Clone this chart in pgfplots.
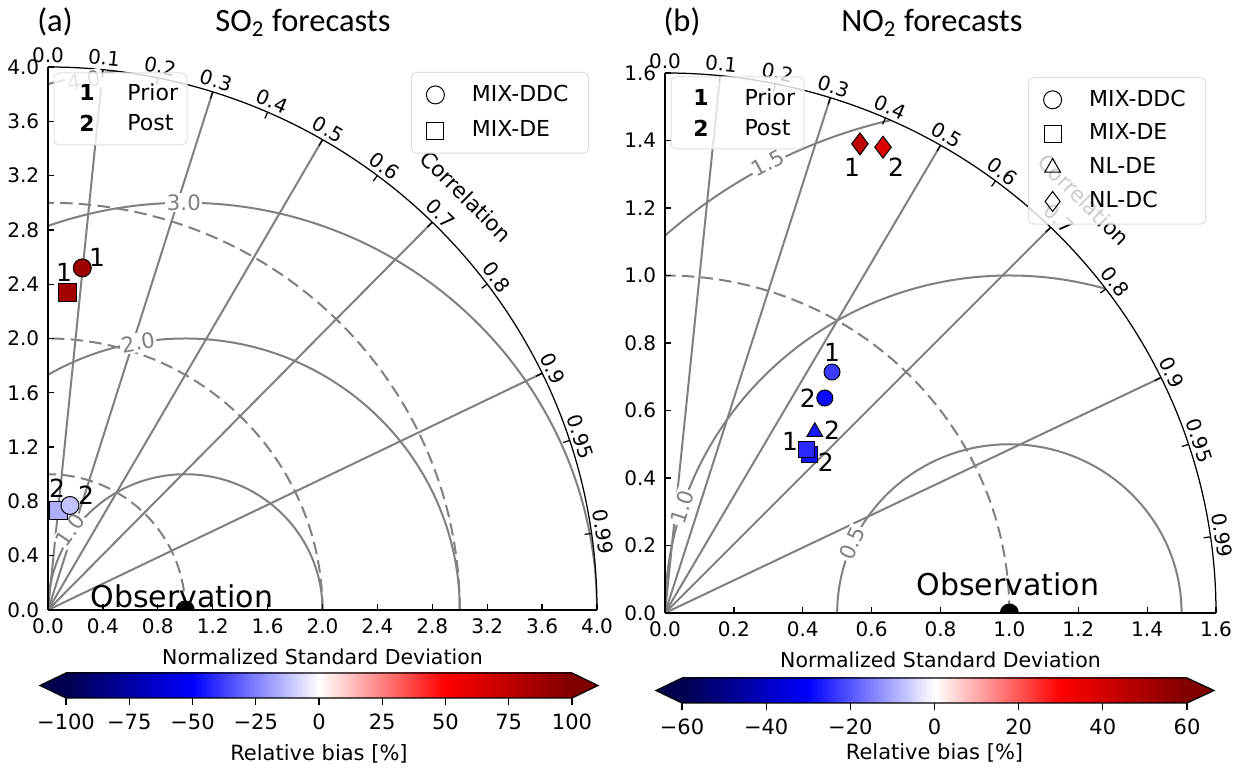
\documentclass[border=0pt]{standalone}
\usepackage{fontspec}
\setmainfont{DejaVu Sans}
\newfontfamily\titlefont{Carlito}
\usepackage{pgfplots}
\pgfplotsset{compat=1.18}

\definecolor{sA}{rgb}{0,0,0.3}
\definecolor{sB}{rgb}{0,0,1}
\definecolor{sD}{rgb}{1,0,0}
\definecolor{sE}{rgb}{0.5,0,0}
\definecolor{gridgray}{gray}{0.5}
\pgfdeclarehorizontalshading{seismic}{100bp}{color(0bp)=(sA); color(25bp)=(sA); color(37.5bp)=(sB); color(50bp)=(white); color(62.5bp)=(sD); color(75bp)=(sE); color(100bp)=(sE)}

\newcommand\tickfont{\fontsize{8}{9}\selectfont}
\newcommand\numfont{\fontsize{10}{11}\selectfont}

\pgfplotsset{
  taylor/.style={
    scale only axis, anchor=south west,
    axis lines=left, axis line style={-, black, line width=0.6pt},
    tick align=inside, major tick length=2.5pt, tick style={black, line width=0.5pt},
    /pgf/number format/fixed, /pgf/number format/fixed zerofill,
    /pgf/number format/precision=1, /pgf/number format/assume math mode=true,
    tick label style={font=\tickfont},
    xlabel={Normalized Standard Deviation},
    label style={font=\fontsize{8.2}{9}\selectfont},
    xlabel style={yshift=1pt},
    clip marker paths=true,
    colormap={seismic}{rgb=(0,0,0.3) rgb=(0,0,1) rgb=(1,1,1) rgb=(1,0,0) rgb=(0.5,0,0)},
    legend cell align=left,
    legend style={draw=gray!25, rounded corners=2pt, fill=white, fill opacity=0.8,
      text opacity=1, font=\fontsize{8.8}{10}\selectfont, anchor=north west,
      row sep=2.4pt, column sep=9pt, inner xsep=6pt, inner ysep=3pt},
  },
  mk/.style={scatter, only marks, point meta=explicit, forget plot,
    scatter/use mapped color={draw=black, fill=mapped color}},
  cbar/.style={
    scale only axis, anchor=south west, height=10pt, clip=false,
    ymin=0, ymax=1, ytick=\empty, axis line style={draw=none},
    tick align=outside, xtick pos=bottom, major tick length=2.8pt,
    tick style={black, line width=0.5pt},
    tick label style={font=\fontsize{8.4}{9}\selectfont},
    xlabel={Relative bias [\%]},
    label style={font=\fontsize{8.4}{9}\selectfont},
    axis background/.style={shade, shading=seismic},
  },
}

\begin{document}
\begin{tikzpicture}
\path[use as bounding box] (0,0) rectangle (494.8pt,307.2pt);

% ---------- left panel grid
\begin{scope}[shift={(19.2pt,63.2pt)}, x=54.9pt, y=54.3pt]
  \begin{scope}
    \clip (0,0) -- (4,0) arc[start angle=0, end angle=90, radius=4] -- cycle;
    \foreach \c in {0.1,0.3,0.5,0.7,0.9} {
      \pgfmathsetmacro\a{acos(\c)}
      \draw[gridgray, line width=0.8pt] (0,0) -- (\a:4);
    }
    \foreach \r in {1,2,3,4}
      \draw[gridgray, line width=0.8pt] (1,0) circle[radius=\r];
    \foreach \r in {1,2,3}
      \draw[gridgray, line width=0.8pt, dash pattern=on 5pt off 2.5pt] (\r,0) arc[start angle=0, end angle=90, radius=\r];
  \end{scope}
  \draw[black, line width=0.5pt] (4,0) arc[start angle=0, end angle=90, radius=4];
  \foreach \c in {0.0,0.1,0.2,0.3,0.4,0.5,0.6,0.7,0.8,0.9,0.95,0.99} {
    \pgfmathsetmacro\a{acos(\c)}
    \draw[black, line width=0.5pt] (\a:4) -- (\a:3.95);
    \node[rotate=\a-90, anchor=south, inner sep=1.5pt, font=\tickfont] at (\a:4) {\c};
  }
  \node[rotate=-45, font=\fontsize{8.6}{9}\selectfont] at (45:4.31) {Correlation};
  \begin{scope}[every node/.style={text=gridgray, fill=white, inner sep=0.6pt, font=\fontsize{8.5}{9}\selectfont}]
    \node[rotate=55] at (0.16,0.59) {1.0};
    \node[rotate=10] at (0.656,1.97) {2.0};
    \node at (0.99,3.0) {3.0};
    \node[rotate=11] at (0.26,3.9) {4.0};
  \end{scope}
\end{scope}

\begin{axis}[taylor, at={(19.2pt,63.2pt)}, width=219.6pt, height=217.2pt,
  xmin=0, xmax=4, ymin=0, ymax=4, point meta min=-100, point meta max=100,
  xtick={0,0.4,0.8,1.2,1.6,2,2.4,2.8,3.2,3.6,4},
  ytick={0,0.4,0.8,1.2,1.6,2,2.4,2.8,3.2,3.6,4},
  legend style={at={(0.661,0.991)}}]
\addlegendimage{only marks, mark=o, black, mark size=3.6pt}
\addlegendentry{MIX-DDC}
\addlegendimage{only marks, mark=square, black, mark size=3.4pt}
\addlegendentry{MIX-DE}
\addplot[mk, mark=square*, mark size=3.6pt] table[meta=b] {
x y b
0.14 2.34 86
0.08 0.73 -16
};
\addplot[mk, mark=*, mark size=3.6pt] table[meta=b] {
x y b
0.25 2.52 88
0.16 0.77 -12
};
\addplot[only marks, mark=*, black, mark size=3.6pt, forget plot] coordinates {(1,0)};
\node[font=\numfont] at (axis cs:0.357,2.60) {1};
\node[font=\numfont] at (axis cs:0.117,2.49) {1};
\node[font=\numfont] at (axis cs:0.277,0.847) {2};
\node[font=\numfont] at (axis cs:0.066,0.899) {2};
\node[anchor=base, inner sep=0pt, font=\fontsize{12}{14}\selectfont] at (axis cs:0.976,0.022) {Observation};
\end{axis}

% ---------- right panel grid
\begin{scope}[shift={(266pt,62pt)}, x=137.75pt, y=135pt]
  \begin{scope}
    \clip (0,0) -- (1.6,0) arc[start angle=0, end angle=90, radius=1.6] -- cycle;
    \foreach \c in {0.1,0.3,0.5,0.7,0.9} {
      \pgfmathsetmacro\a{acos(\c)}
      \draw[gridgray, line width=0.8pt] (0,0) -- (\a:1.6);
    }
    \foreach \r in {0.5,1,1.5}
      \draw[gridgray, line width=0.8pt] (1,0) circle[radius=\r];
    \draw[gridgray, line width=0.8pt, dash pattern=on 5pt off 2.5pt] (1,0) arc[start angle=0, end angle=90, radius=1];
  \end{scope}
  \draw[black, line width=0.5pt] (1.6,0) arc[start angle=0, end angle=90, radius=1.6];
  \foreach \c in {0.0,0.1,0.2,0.3,0.4,0.5,0.6,0.7,0.8,0.9,0.95,0.99} {
    \pgfmathsetmacro\a{acos(\c)}
    \draw[black, line width=0.5pt] (\a:1.6) -- (\a:1.58);
    \node[rotate=\a-90, anchor=south, inner sep=1.5pt, font=\tickfont] at (\a:1.6) {\c};
  }
  \node[rotate=-45, font=\fontsize{8.6}{9}\selectfont] at (45.2:1.726) {Correlation};
  \begin{scope}[every node/.style={text=gridgray, fill=white, inner sep=0.6pt, font=\fontsize{8.5}{9}\selectfont}]
    \node[rotate=28] at (0.299,1.333) {1.5};
    \node[rotate=72] at (0.049,0.314) {1.0};
    \node[rotate=66] at (0.543,0.207) {0.5};
  \end{scope}
\end{scope}

\begin{axis}[taylor, at={(266pt,62pt)}, width=220.4pt, height=216pt,
  xmin=0, xmax=1.6, ymin=0, ymax=1.6, point meta min=-60, point meta max=60,
  xtick={0,0.2,0.4,0.6,0.8,1,1.2,1.4,1.6},
  ytick={0,0.2,0.4,0.6,0.8,1,1.2,1.4,1.6},
  legend style={at={(0.659,0.993)}, row sep=1.6pt}]
\addlegendimage{only marks, mark=o, black, mark size=3.6pt}
\addlegendentry{MIX-DDC}
\addlegendimage{only marks, mark=square, black, mark size=3.4pt}
\addlegendentry{MIX-DE}
\addlegendimage{only marks, mark=triangle, black, mark size=3.6pt}
\addlegendentry{NL-DE}
\addlegendimage{only marks, mark=diamond, black, mark size=4pt}
\addlegendentry{NL-DC}
\addplot[mk, mark=triangle*, mark size=3.6pt] table[meta=b] {
x y b
0.435 0.537 -27
};
\addplot[mk, mark=square*, mark size=3.2pt] table[meta=b] {
x y b
0.42 0.47 -28
0.41 0.483 -25
};
\addplot[mk, mark=*, mark size=3.2pt] table[meta=b] {
x y b
0.485 0.714 -23
0.464 0.637 -29
};
\addplot[mk, mark=diamond*, mark size=4.4pt] table[meta=b] {
x y b
0.566 1.39 45
0.633 1.38 38
};
\addplot[only marks, mark=*, black, mark size=3.6pt, forget plot] coordinates {(1,0)};
\node[font=\numfont] at (axis cs:0.543,1.321) {1};
\node[font=\numfont] at (axis cs:0.671,1.321) {2};
\node[font=\numfont] at (axis cs:0.485,0.773) {1};
\node[font=\numfont] at (axis cs:0.415,0.637) {2};
\node[font=\numfont] at (axis cs:0.485,0.542) {2};
\node[font=\numfont] at (axis cs:0.363,0.507) {1};
\node[font=\numfont] at (axis cs:0.467,0.447) {2};
\node[anchor=base, inner sep=0pt, font=\fontsize{12}{14}\selectfont] at (axis cs:0.996,0.053) {Observation};
\end{axis}

% ---------- Prior / Post keys and titles (pixel coordinates)
\begin{scope}[x=0.4pt, y=-0.4pt, shift={(0pt,307.2pt)}]
  \draw[draw=gray!25, fill=white, fill opacity=0.8, rounded corners=2pt] (54,73) rectangle (187,145);
  \node[font=\fontsize{8.8}{10}\selectfont\bfseries] at (87,92) {1};
  \node[font=\fontsize{8.8}{10}\selectfont\bfseries] at (87,123) {2};
  \node[anchor=west, inner sep=0pt, font=\fontsize{8.8}{10}\selectfont] at (127,92) {Prior};
  \node[anchor=west, inner sep=0pt, font=\fontsize{8.8}{10}\selectfont] at (127,123) {Post};
  \draw[draw=gray!25, fill=white, fill opacity=0.8, rounded corners=2pt] (671,77) rectangle (804,149);
  \node[font=\fontsize{8.8}{10}\selectfont\bfseries] at (701,97) {1};
  \node[font=\fontsize{8.8}{10}\selectfont\bfseries] at (701,128) {2};
  \node[anchor=west, inner sep=0pt, font=\fontsize{8.8}{10}\selectfont] at (744,97) {Prior};
  \node[anchor=west, inner sep=0pt, font=\fontsize{8.8}{10}\selectfont] at (744,128) {Post};
  \begin{scope}[every node/.style={anchor=base, inner sep=0pt, font=\titlefont\fontsize{13}{15}\selectfont}]
    \node at (55,32) {(a)};
    \node at (303,32) {SO\textsubscript{2} forecasts};
    \node at (682,32) {(b)};
    \node at (932,32) {NO\textsubscript{2} forecasts};
  \end{scope}
\end{scope}

% ---------- colour bars
\begin{axis}[cbar, at={(26.4pt,28pt)}, width=202.4pt, xmin=-100, xmax=100,
  xtick={-100,-75,-50,-25,0,25,50,75,100},
  xticklabels={−100,−75,−50,−25,0,25,50,75,100},
  xlabel style={yshift=1pt}]
\fill[sA] (rel axis cs:0,0) -- ++(-10.4pt,5pt) -- (rel axis cs:0,1) -- cycle;
\fill[sE] (rel axis cs:1,0) -- ++(10.4pt,5pt) -- (rel axis cs:1,1) -- cycle;
\draw[black, line width=0.5pt] (rel axis cs:0,0) -- ++(-10.4pt,5pt) -- (rel axis cs:0,1)
  -- (rel axis cs:1,1) -- ++(10.4pt,-5pt) -- (rel axis cs:1,0) -- cycle;
\end{axis}

\begin{axis}[cbar, at={(272.8pt,26pt)}, width=202pt, xmin=-60, xmax=60,
  xtick={-60,-40,-20,0,20,40,60},
  xticklabels={−60,−40,−20,0,20,40,60},
  xlabel style={yshift=3.5pt}]
\fill[sA] (rel axis cs:0,0) -- ++(-10.4pt,5pt) -- (rel axis cs:0,1) -- cycle;
\fill[sE] (rel axis cs:1,0) -- ++(10.8pt,5pt) -- (rel axis cs:1,1) -- cycle;
\draw[black, line width=0.5pt] (rel axis cs:0,0) -- ++(-10.4pt,5pt) -- (rel axis cs:0,1)
  -- (rel axis cs:1,1) -- ++(10.8pt,-5pt) -- (rel axis cs:1,0) -- cycle;
\end{axis}
\end{tikzpicture}
\end{document}
